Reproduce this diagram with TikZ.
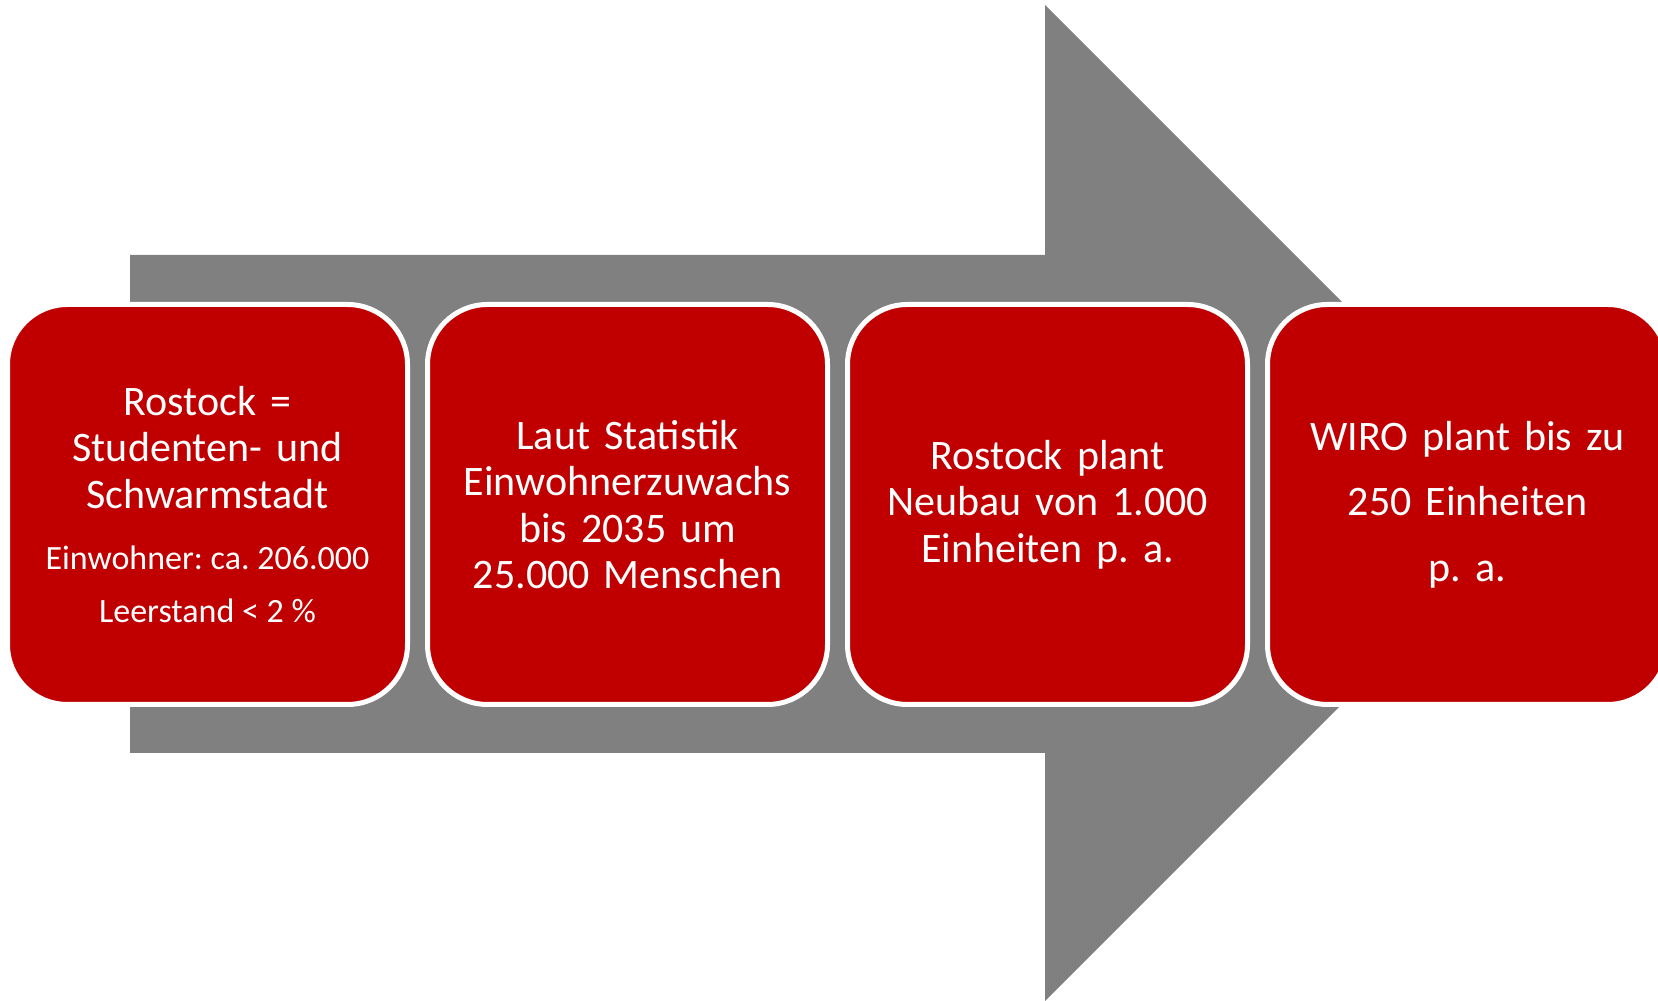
\documentclass[tikz,border=0pt]{standalone}
\usepackage{fontspec}
\setmainfont{Carlito}
\frenchspacing
\usetikzlibrary{positioning}
\definecolor{wirored}{HTML}{C00000}
\definecolor{arrowgray}{HTML}{808080}
\newcommand\stagesize[2]{\fontsize{#1}{#2}\selectfont\spaceskip=0.226em\relax}

\begin{document}
\begin{tikzpicture}[
    x=1pt,y=1pt,
    node distance=420pt,
    stage/.style={draw=white,line width=5pt,fill=wirored,text=white,
        rounded corners=60pt,minimum width=400pt,minimum height=400pt,
        inner sep=0pt,text width=390pt,execute at begin node=\centering,
        font=\stagesize{42}{46.5}}
]

\useasboundingbox (0,0) rectangle (1658,1001);
\clip (0,0) rectangle (1658,1001);

% big arrow behind the stages
\fill[arrowgray]
(130,248) -- (1045,248) -- (1045,0) -- (1543,498)
-- (1045,996) -- (1045,746) -- (130,746) -- cycle;

\node[stage] (city) at (207.5,496.5)
{Rostock =\\Studenten- und\\Schwarmstadt\par\vspace{8pt}
{\stagesize{34}{53}Einwohner: ca. 206.000\\Leerstand < 2 \%\par}};

\node[stage,right of=city] (stats)
{Laut Statistik\\Einwohnerzuwachs\\bis 2035 um\\25.000 Menschen};

\node[stage,right of=stats] (build)
{Rostock plant\\Neubau von 1.000\\Einheiten p. a.};

\node[stage,right of=build,font=\stagesize{42}{65.5}] (wiro)
{WIRO plant bis zu\\250 Einheiten\\p. a.};

\end{tikzpicture}
\end{document}
